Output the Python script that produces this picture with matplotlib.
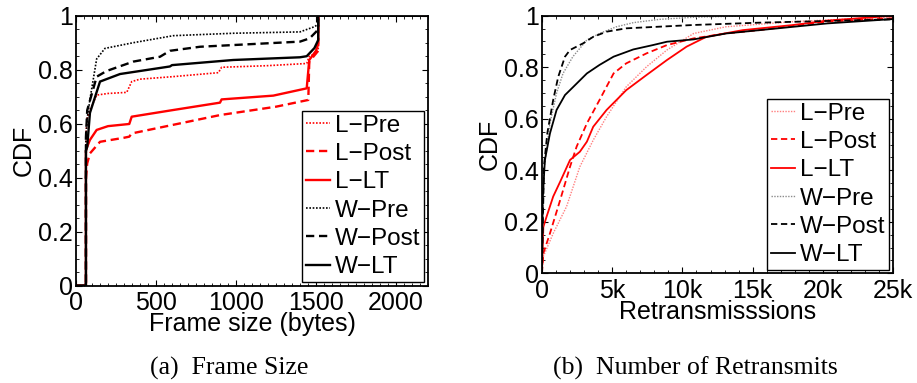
import numpy as np
import matplotlib
matplotlib.use("Agg")
import matplotlib.pyplot as plt
from matplotlib.ticker import MultipleLocator

plt.rcParams['font.family'] = ['Liberation Sans', 'DejaVu Sans']

"""data: frame size CDF (bytes)"""
fs_lpre_x = [0, 62, 62, 70, 87, 129, 200, 317, 348, 400, 600, 890, 910, 1200, 1442, 1458, 1500, 1514, 1514, 2200]
fs_lpre_y = [0, 0, 0.56, 0.62, 0.65, 0.706, 0.712, 0.716, 0.756, 0.765, 0.774, 0.789, 0.809, 0.815, 0.823, 0.85, 0.86, 0.87, 1.0, 1.0]
fs_lpost_x = [0, 62, 62, 70, 87, 150, 300, 333, 348, 600, 900, 1250, 1452, 1458, 1500, 1514, 1514, 2200]
fs_lpost_y = [0, 0, 0.40, 0.453, 0.49, 0.533, 0.548, 0.552, 0.564, 0.595, 0.632, 0.663, 0.688, 0.83, 0.86, 0.87, 1.0, 1.0]
fs_llt_x = [0, 62, 62, 70, 87, 129, 200, 333, 348, 600, 900, 910, 1233, 1442, 1458, 1500, 1514, 1514, 2200]
fs_llt_y = [0, 0, 0.50, 0.515, 0.54, 0.577, 0.591, 0.599, 0.626, 0.65, 0.678, 0.69, 0.704, 0.731, 0.836, 0.87, 0.897, 1.0, 1.0]
fs_wpre_x = [0, 62, 62, 70, 87, 129, 181, 358, 608, 983, 1400, 1494, 1514, 1514, 2200]
fs_wpre_y = [0, 0, 0.55, 0.62, 0.69, 0.84, 0.879, 0.90, 0.926, 0.935, 0.94, 0.96, 0.97, 1.0, 1.0]
fs_wpost_x = [0, 62, 62, 70, 129, 190, 358, 525, 587, 775, 1400, 1460, 1500, 1514, 1514, 2200]
fs_wpost_y = [0, 0, 0.55, 0.65, 0.774, 0.795, 0.83, 0.848, 0.87, 0.885, 0.904, 0.916, 0.94, 0.95, 1.0, 1.0]
fs_wlt_x = [0, 62, 62, 70, 87, 150, 275, 587, 600, 983, 1400, 1442, 1490, 1514, 1514, 2200]
fs_wlt_y = [0, 0, 0.50, 0.515, 0.64, 0.756, 0.784, 0.812, 0.817, 0.836, 0.846, 0.85, 0.88, 0.91, 1.0, 1.0]

"""data: retransmissions CDF"""
rt_lpre_x = [0, 100, 800, 1750, 2700, 3650, 4600, 6000, 7450, 8900, 10800, 13100, 17900, 25000]
rt_lpre_y = [0, 0.065, 0.155, 0.259, 0.414, 0.517, 0.608, 0.724, 0.802, 0.867, 0.931, 0.957, 0.977, 0.996]
rt_lpost_x = [0, 100, 570, 1300, 2000, 2470, 3200, 4100, 5100, 6000, 7450, 8900, 10800, 13100, 15500, 20300, 25000]
rt_lpost_y = [0, 0.078, 0.155, 0.285, 0.414, 0.492, 0.582, 0.673, 0.776, 0.815, 0.854, 0.886, 0.912, 0.931, 0.944, 0.977, 0.99]
rt_llt_x = [0, 100, 330, 800, 1300, 2000, 2700, 3200, 3650, 4600, 6000, 7450, 8900, 10300, 11700, 14300, 17900, 20300, 25000]
rt_llt_y = [0, 0.18, 0.22, 0.298, 0.356, 0.44, 0.472, 0.511, 0.569, 0.634, 0.711, 0.77, 0.828, 0.88, 0.918, 0.944, 0.964, 0.981, 1.0]
rt_wpre_x = [0, 140, 570, 1040, 1500, 2200, 3200, 4100, 5300, 6500, 8400, 10800, 15000, 25000]
rt_wpre_y = [0, 0.40, 0.582, 0.699, 0.776, 0.841, 0.906, 0.931, 0.957, 0.973, 0.986, 0.994, 1.0, 1.0]
rt_wpost_x = [0, 140, 380, 800, 1160, 1640, 2000, 2940, 3650, 4600, 6000, 10800, 15500, 25000]
rt_wpost_y = [0, 0.414, 0.543, 0.673, 0.763, 0.841, 0.867, 0.893, 0.918, 0.938, 0.951, 0.964, 0.973, 0.986]
rt_wlt_x = [0, 50, 210, 570, 1040, 1640, 2200, 3200, 4100, 5100, 6500, 7900, 8900, 10800, 13100, 15500, 17900, 20300, 25000]
rt_wlt_y = [0, 0.285, 0.44, 0.543, 0.634, 0.692, 0.722, 0.776, 0.809, 0.841, 0.869, 0.886, 0.899, 0.908, 0.931, 0.944, 0.957, 0.97, 0.987]

labels = ["L\u2212Pre", "L\u2212Post", "L\u2212LT", "W\u2212Pre", "W\u2212Post", "W\u2212LT"]
x_ticks_fs = [0, 500, 1000, 1500, 2000]
x_ticks_rt = [0, 5000, 10000, 15000, 20000, 25000]
x_ticklabels_rt = ["0", "5k", "10k", "15k", "20k", "25k"]
y_ticks = [0, 0.2, 0.4, 0.6, 0.8, 1.0]
y_ticklabels = ["0", "0.2", "0.4", "0.6", "0.8", "1"]

DOT = (0, (1, 1))
DASH = (0, (3.5, 2))
FS = 18


def style_axes(ax):
    ax.tick_params(which='both', direction='in', top=True, right=True, labelsize=FS)
    ax.tick_params(axis='x', pad=4)
    ax.tick_params(axis='y', pad=2)
    ax.tick_params(which='major', length=4, width=0.8)
    ax.tick_params(which='minor', length=2, width=0.6)
    for s in ax.spines.values():
        s.set_linewidth(1.3)
    ax.set_ylim(0, 1)
    ax.set_yticks(y_ticks)
    ax.set_yticklabels(y_ticklabels)
    ax.yaxis.set_minor_locator(MultipleLocator(0.05))


fig = plt.figure(figsize=(9.17, 3.83), dpi=100)

"""(a) frame size"""
ax1 = fig.add_axes([0.0829, 0.254, 0.3838, 0.705])
lw = 1.7
ax1.plot(fs_lpre_x, fs_lpre_y, color='red', ls=DOT, lw=1.2, label=labels[0])
ax1.plot(fs_lpost_x, fs_lpost_y, color='red', ls=DASH, lw=lw, label=labels[1])
ax1.plot(fs_llt_x, fs_llt_y, color='red', ls='-', lw=lw, label=labels[2])
ax1.plot(fs_wpre_x, fs_wpre_y, color='black', ls=DOT, lw=1.2, label=labels[3])
ax1.plot(fs_wpost_x, fs_wpost_y, color='black', ls=DASH, lw=lw, label=labels[4])
ax1.plot(fs_wlt_x, fs_wlt_y, color='black', ls='-', lw=lw, label=labels[5])
ax1.set_xlim(0, 2200)
ax1.set_xticks(x_ticks_fs)
ax1.xaxis.set_minor_locator(MultipleLocator(50))
style_axes(ax1)
ax1.set_xlabel("Frame size (bytes)", fontsize=FS, labelpad=-2)
ax1.set_ylabel("CDF", fontsize=FS, labelpad=2)

"""(b) retransmissions"""
ax2 = fig.add_axes([0.591, 0.2864, 0.383, 0.6726])
lw2 = 1.3
ax2.plot(rt_lpre_x, rt_lpre_y, color='#ff7f7f', ls=DOT, lw=1.0, label=labels[0])
ax2.plot(rt_lpost_x, rt_lpost_y, color='red', ls=DASH, lw=lw2, label=labels[1])
ax2.plot(rt_llt_x, rt_llt_y, color='red', ls='-', lw=lw2, label=labels[2])
ax2.plot(rt_wpre_x, rt_wpre_y, color='#8c8c8c', ls=DOT, lw=1.0, label=labels[3])
ax2.plot(rt_wpost_x, rt_wpost_y, color='black', ls=DASH, lw=lw2, label=labels[4])
ax2.plot(rt_wlt_x, rt_wlt_y, color='black', ls='-', lw=lw2, label=labels[5])
ax2.set_xlim(0, 25000)
ax2.set_xticks(x_ticks_rt)
ax2.set_xticklabels(x_ticklabels_rt)
ax2.xaxis.set_minor_locator(MultipleLocator(1000))
style_axes(ax2)
ax2.set_xlabel("Retransmisssions", fontsize=FS, labelpad=-2)
ax2.set_ylabel("CDF", fontsize=FS, labelpad=2)

for ax, anchor in [(ax1, (0.989, 0.014)), (ax2, (0.988, 0.013))]:
    leg = ax.legend(loc='lower right', bbox_to_anchor=anchor, fontsize=17.5,
                    frameon=True, fancybox=False, framealpha=1, edgecolor='black',
                    handlelength=1.0, handletextpad=0.2, borderpad=0.15,
                    labelspacing=0.26, borderaxespad=0)
    leg.get_frame().set_linewidth(1.0)

fig.text(0.25, 0.039, "(a)  Frame Size", ha='center', va='center', fontsize=18.5,
         family=['Liberation Serif', 'DejaVu Serif'])
fig.text(0.758, 0.039, "(b)  Number of Retransmits", ha='center', va='center', fontsize=18.5,
         family=['Liberation Serif', 'DejaVu Serif'])

fig.savefig("out.png", dpi=100)
